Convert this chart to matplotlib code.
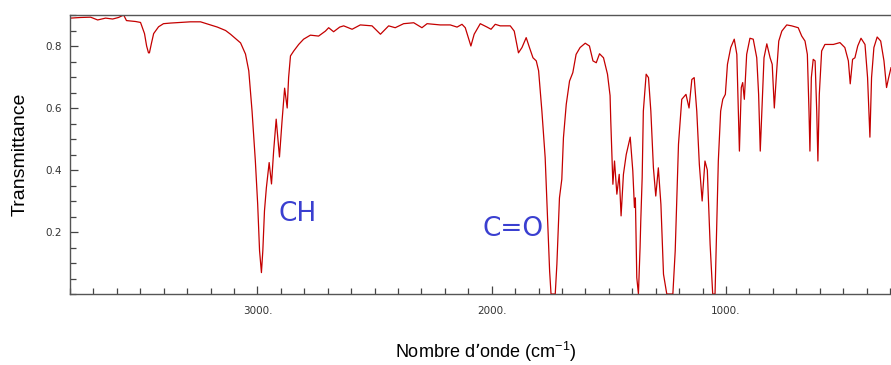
import matplotlib
matplotlib.use("Agg")
import matplotlib.pyplot as plt
from matplotlib.ticker import MultipleLocator, FixedLocator, FuncFormatter

# IR spectrum (wavenumber in cm-1, transmittance)
wavenumber = [
    3797, 3755, 3712, 3682, 3648, 3618, 3593, 3571, 3559, 3520,
    3499, 3482, 3473, 3465, 3461, 3452, 3443, 3422, 3401, 3371,
    3328, 3286, 3243, 3200, 3171, 3136, 3115, 3081, 3072, 3051,
    3037, 3023, 3009, 2999, 2991, 2983, 2977, 2970, 2962, 2950,
    2940, 2931, 2920, 2906, 2895, 2884, 2873, 2867, 2859, 2845,
    2824, 2803, 2774, 2739, 2710, 2696, 2675, 2649, 2632, 2596,
    2561, 2511, 2475, 2440, 2412, 2376, 2333, 2298, 2276, 2220,
    2177, 2148, 2127, 2113, 2089, 2075, 2049, 2020, 2003, 1985,
    1964, 1921, 1904, 1886, 1871, 1853, 1839, 1824, 1810, 1800,
    1786, 1772, 1762, 1753, 1747, 1729, 1722, 1711, 1701, 1694,
    1682, 1668, 1654, 1640, 1623, 1601, 1583, 1568, 1554, 1540,
    1523, 1506, 1495, 1492, 1483, 1476, 1466, 1456, 1448, 1438,
    1426, 1409, 1398, 1391, 1387, 1381, 1374, 1367, 1364, 1358,
    1353, 1341, 1331, 1321, 1310, 1300, 1289, 1278, 1267, 1253,
    1227, 1217, 1203, 1189, 1171, 1158, 1146, 1136, 1125, 1114,
    1102, 1090, 1080, 1068, 1057, 1047, 1040, 1033, 1023, 1014,
    1003, 994, 980, 965, 954, 943, 935, 929, 922, 912,
    898, 884, 869, 861, 854, 846, 838, 826, 812, 803,
    794, 784, 775, 762, 741, 720, 692, 677, 663, 653,
    646, 642, 636, 628, 620, 613, 608, 602, 592, 578,
    542, 514, 493, 478, 470, 460, 450, 438, 424, 407,
    396, 386, 379, 369, 355, 340, 326, 315, 306, 296,
]
transmittance = [
    0.890, 0.892, 0.893, 0.884, 0.890, 0.887, 0.892, 0.900, 0.882, 0.879,
    0.876, 0.840, 0.800, 0.778, 0.778, 0.810, 0.840, 0.862, 0.872, 0.874,
    0.876, 0.878, 0.878, 0.868, 0.861, 0.850, 0.838, 0.816, 0.810, 0.774,
    0.720, 0.590, 0.430, 0.290, 0.140, 0.069, 0.140, 0.268, 0.342, 0.424,
    0.355, 0.460, 0.564, 0.442, 0.558, 0.664, 0.600, 0.698, 0.768, 0.784,
    0.805, 0.822, 0.835, 0.832, 0.848, 0.859, 0.846, 0.861, 0.865, 0.854,
    0.868, 0.865, 0.838, 0.865, 0.859, 0.872, 0.875, 0.859, 0.872, 0.868,
    0.868, 0.861, 0.870, 0.859, 0.800, 0.838, 0.872, 0.861, 0.854, 0.870,
    0.865, 0.865, 0.848, 0.778, 0.795, 0.827, 0.795, 0.762, 0.752, 0.720,
    0.590, 0.440, 0.246, 0.074, 0.000, 0.000, 0.096, 0.310, 0.370, 0.504,
    0.612, 0.687, 0.714, 0.773, 0.795, 0.809, 0.800, 0.752, 0.746, 0.775,
    0.762, 0.709, 0.640, 0.558, 0.354, 0.429, 0.322, 0.386, 0.252, 0.386,
    0.450, 0.506, 0.397, 0.279, 0.310, 0.053, 0.000, 0.149, 0.235, 0.375,
    0.590, 0.709, 0.698, 0.590, 0.407, 0.316, 0.407, 0.289, 0.064, 0.000,
    0.000, 0.139, 0.483, 0.628, 0.644, 0.600, 0.692, 0.698, 0.590, 0.418,
    0.300, 0.429, 0.400, 0.160, 0.000, 0.000, 0.214, 0.429, 0.590, 0.628,
    0.644, 0.741, 0.795, 0.822, 0.773, 0.461, 0.666, 0.682, 0.628, 0.773,
    0.825, 0.822, 0.762, 0.644, 0.461, 0.612, 0.762, 0.807, 0.762, 0.741,
    0.600, 0.719, 0.816, 0.848, 0.868, 0.865, 0.859, 0.832, 0.816, 0.773,
    0.590, 0.461, 0.698, 0.757, 0.752, 0.590, 0.429, 0.644, 0.784, 0.805,
    0.805, 0.811, 0.795, 0.752, 0.678, 0.757, 0.762, 0.800, 0.825, 0.805,
    0.698, 0.506, 0.698, 0.795, 0.829, 0.816, 0.752, 0.666, 0.698, 0.730,
]

x_major = [3000, 2000, 1000]
y_major = [0.2, 0.4, 0.6, 0.8]
bands = ["CH", "C=O"]
band_pos = [(2830, 0.258), (1908, 0.21)]

plt.rcParams["mathtext.default"] = "regular"

fig = plt.figure(figsize=(8.91, 3.65), dpi=100)
ax = fig.add_axes([70 / 891, 1 - 294 / 365, 1 - 70 / 891, 279 / 365])

ax.plot(wavenumber, transmittance, color="#c40000", linewidth=0.9)

ax.set_xlim(3800, 296)
ax.set_ylim(0, 0.9)

ax.xaxis.set_major_locator(FixedLocator(x_major))
ax.xaxis.set_minor_locator(MultipleLocator(100))
ax.xaxis.set_major_formatter(FuncFormatter(lambda v, p: f"{int(v)}."))
ax.yaxis.set_major_locator(FixedLocator(y_major))
ax.yaxis.set_minor_locator(MultipleLocator(0.05))

ax.tick_params(which="both", direction="in", colors="#444444",
               labelcolor="#333333", labelsize=7.5, width=0.9)
ax.tick_params(which="major", length=6)
ax.tick_params(which="minor", length=4)
ax.tick_params(axis="x", pad=9)
ax.tick_params(axis="y", pad=6)

for side in ["left", "bottom", "top"]:
    ax.spines[side].set_color("#555555")
    ax.spines[side].set_linewidth(1.0)
ax.spines["right"].set_visible(False)

ax.set_ylabel("Transmittance", fontsize=14, family="Liberation Sans",
              labelpad=12)
ax.set_xlabel("Nombre d\u2019onde (cm$^{-1}$)", fontsize=13,
              family="Liberation Sans")
ax.xaxis.set_label_coords(0.507, -0.165)

for name, (wx, ty) in zip(bands, band_pos):
    ax.text(wx, ty, name, color="#3a3fd0", fontsize=19, ha="center",
            va="center", family="DejaVu Sans")

fig.savefig("out.png", dpi=100)
